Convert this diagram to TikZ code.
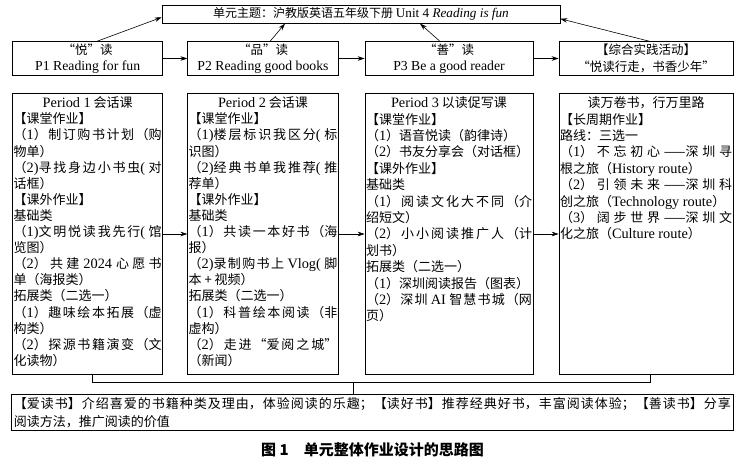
\documentclass[tikz,border=0pt]{standalone}
\usepackage{fontspec}
\setmainfont{Noto Sans CJK SC}
\newfontfamily\latinfont{Liberation Serif}[Scale=1.1]
\newcommand{\en}[1]{{\latinfont #1}}
\XeTeXlinebreaklocale "zh"
\XeTeXlinebreakskip=0pt plus 4pt
\usetikzlibrary{arrows.meta,calc}
\newcommand{\periodtext}[3]{\parbox[t][274.4pt][t]{#1}{\fontsize{13pt}{#2}\selectfont
    \tolerance=10000\hbadness=10000 #3}}

\begin{document}
\begin{tikzpicture}[x=1pt,y=-1pt,
        box/.style={draw,line width=0.6pt,inner sep=0pt,align=center},
        rowbox/.style={box,minimum height=33.6pt,font=\fontsize{12.5pt}{16.5pt}\selectfont},
        periodbox/.style={draw,line width=0.6pt,inner xsep=1pt,inner ysep=3.5pt},
        arr/.style={line width=0.6pt,-{Stealth[length=7pt,width=4.5pt]}}]
    \useasboundingbox (0,0) rectangle (743,462);

    % Unit theme
    \node[box,minimum width=398pt,minimum height=18pt,font=\fontsize{12pt}{15pt}\selectfont] (top) at (361,14.3)
        {单元主题：沪教版英语五年级下册 \en{Unit 4 \textit{Reading is fun}}};

    % Reading stages
    \node[rowbox,minimum width=150pt] (t1) at (87.7,58.5) {“悦”读\\\en{P1 Reading for fun}};
    \node[rowbox,minimum width=150.6pt] (t2) at (263,58.5) {“品”读\\\en{P2 Reading good books}};
    \node[rowbox,minimum width=168pt] (t3) at (449,58.5) {“善”读\\\en{P3 Be a good reader}};
    \node[rowbox,minimum width=174pt] (t4) at (646,58.5) {【综合实践活动】\\“悦读行走，书香少年”};

    % Periods
    \node[periodbox] (p1) at (87.7,234) {\periodtext{148pt}{16.1pt}{%
        \centerline{\en{Period 1} 会话课}
        【课堂作业】\\
        （\en{1}）制订购书计划（购\linebreak
        物单）\\
        （\en{2)}寻找身边小书虫\en{(} 对\linebreak
        话框）\\
        【课外作业】\\
        基础类\\
        （\en{1)}文明悦读我先行\en{(} 馆\linebreak
        览图）\\
        （\en{2}）共建 \en{2024} 心愿书\linebreak
        单（海报类）\\
        拓展类（二选一）\\
        （\en{1}）趣味绘本拓展（虚\linebreak
        构类）\\
        （\en{2}）探源书籍演变（文\linebreak
        化读物）}};
    \node[periodbox] (p2) at (263,234) {\periodtext{148.6pt}{16.1pt}{%
        \centerline{\en{Period 2} 会话课}
        【课堂作业】\\
        （\en{1)}楼层标识我区分\en{(} 标\linebreak
        识图）\\
        （\en{2)}经典书单我推荐\en{(} 推\linebreak
        荐单）\\
        【课外作业】\\
        基础类\\
        （\en{1}）共读一本好书（海\linebreak
        报）\\
        （\en{2)}录制购书上 \en{Vlog(} 脚\linebreak
        本 + 视频）\\
        拓展类（二选一）\\
        （\en{1}）科普绘本阅读（非\linebreak
        虚构）\\
        （\en{2}）走进“爱阅之城”\linebreak
        （新闻）}};
    \node[periodbox] (p3) at (449,234) {\periodtext{166pt}{16.4pt}{%
        \centerline{\en{Period 3} 以读促写课}
        【课堂作业】\\
        （\en{1}）语音悦读（韵律诗）\\
        （\en{2}）书友分享会（对话框）\\
        【课外作业】\\
        基础类\\
        （\en{1}）阅读文化大不同（介\linebreak
        绍短文）\\
        （\en{2}）小小阅读推广人（计\linebreak
        划书）\\
        拓展类（二选一）\\
        （\en{1}）深圳阅读报告（图表）\\
        （\en{2}）深圳 \en{AI} 智慧书城（网\linebreak
        页）}};
    \node[periodbox] (p4) at (646,234) {\periodtext{172pt}{16.4pt}{%
        \centerline{读万卷书，行万里路}
        【长周期作业】\\
        路线：三选一\\
        （\en{1}）不忘初心——深圳寻\linebreak
        根之旅（\en{History route}）\\
        （\en{2}）引领未来——深圳科\linebreak
        创之旅（\en{Technology route}）\\
        （\en{3}）阔步世界——深圳文\linebreak
        化之旅（\en{Culture route}）}};

    % Summary
    \node[box,minimum width=721.3pt,minimum height=36.7pt] (note) at (372.35,412.35)
        {\parbox{717pt}{\fontsize{13pt}{18pt}\selectfont\tolerance=10000\hbadness=10000
        【爱读书】介绍喜爱的书籍种类及理由，体验阅读的乐趣；【读好书】推荐经典好书，丰富阅读体验；【善读书】分享\linebreak
        阅读方法，推广阅读的价值}};

    \node[font=\fontsize{15pt}{18pt}\selectfont\bfseries] (cap) at (372.5,450) {图 1\quad 单元整体作业设计的思路图};

    % Arrows along the row
    \draw[arr] (t1) -- (t2);
    \draw[arr] (t2) -- (t3);
    \draw[arr] (t3) -- (t4);
    \draw[arr] (p1) -- (p2);
    \draw[arr] (p2) -- (p3);
    \draw[arr] (p3) -- (p4);

    % Arrows up to the theme
    \draw[arr] ($(t1.north)+(9pt,0)$) -- ($(top.west)+(0,-3pt)$);
    \draw[arr] ($(t2.north)+(7pt,0)$) -- ($(top.south)+(-76pt,0)$);
    \draw[arr] ($(t3.north)+(-9pt,0)$) -- ($(top.south)+(59pt,0)$);
    \draw[arr] ($(t4.north)+(4pt,0)$) -- ($(top.east)+(0,-4.5pt)$);

    % Bracket down to the summary
    \coordinate (joint) at (353,382.7);
    \draw[line width=0.6pt] ($(p1.south)+(5pt,0)$) |- (joint) -| ($(p4.south)+(4pt,0)$);
    \draw[line width=0.6pt] (joint) -- (joint |- note.north);
\end{tikzpicture}
\end{document}
